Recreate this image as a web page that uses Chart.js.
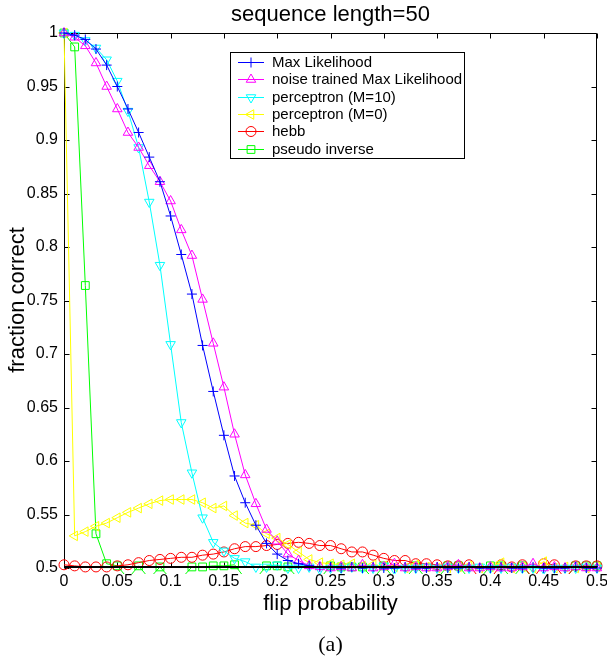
<!DOCTYPE html>
<html>
<head>
<meta charset="utf-8">
<script src="https://cdn.jsdelivr.net/npm/chart.js@4.4.0/dist/chart.umd.min.js"></script>
<style>
html, body { margin: 0; padding: 0; background: #fff; }
#wrap { width: 607px; height: 662px; }
</style>
</head>
<body>
<div id="wrap"><canvas id="c" width="607" height="662"></canvas></div>
<script>
// flip probability (x)
const flipProb = [0,0.01,0.02,0.03,0.04,0.05,0.06,0.07,0.08,0.09,
  0.1,0.11,0.12,0.13,0.14,0.15,0.16,0.17,0.18,0.19,
  0.2,0.21,0.22,0.23,0.24,0.25,0.26,0.27,0.28,0.29,
  0.3,0.31,0.32,0.33,0.34,0.35,0.36,0.37,0.38,0.39,
  0.4,0.41,0.42,0.43,0.44,0.45,0.46,0.47,0.48,0.49,0.5];

// fraction correct per method (0.49 = под осью, не видно)
const maxLik = [1.000,0.998,0.994,0.985,0.970,0.950,0.929,0.907,0.884,0.861,
  0.829,0.793,0.756,0.708,0.665,0.624,0.586,0.561,0.540,0.523,
  0.513,0.507,0.504,0.502,0.501,0.501,0.500,0.501,0.500,0.501,
  0.500,0.500,0.501,0.500,0.500,0.501,0.500,0.500,0.501,0.500,
  0.500,0.501,0.500,0.500,0.501,0.500,0.500,0.500,0.501,0.500,0.500];
const noiseMaxLik = [1.000,0.996,0.988,0.972,0.950,0.929,0.907,0.893,0.876,0.861,
  0.843,0.816,0.792,0.751,0.710,0.669,0.625,0.587,0.560,0.536,
  0.525,0.513,0.507,0.502,0.501,0.500,0.501,0.500,0.503,0.500,
  0.501,0.504,0.500,0.501,0.500,0.500,0.501,0.503,0.500,0.500,
  0.501,0.500,0.500,0.501,0.504,0.500,0.501,0.500,0.501,0.500,0.500];
const percM10 = [1.000,0.998,0.993,0.986,0.975,0.955,0.927,0.893,0.842,0.783,
  0.709,0.636,0.589,0.547,0.524,0.516,0.509,0.506,0.501,0.501,
  0.503,0.500,0.500,0.501,0.499,0.500,0.500,0.501,0.500,0.500,
  0.502,0.499,0.500,0.500,0.501,0.500,0.501,0.500,0.500,0.501,
  0.500,0.500,0.501,0.500,0.500,0.499,0.500,0.500,0.500,0.501,0.500];
const percM0 = [1.000,0.530,0.534,0.539,0.542,0.547,0.552,0.556,0.560,0.563,
  0.564,0.564,0.564,0.561,0.556,0.558,0.549,0.542,0.540,0.532,
  0.528,0.522,0.515,0.508,0.505,0.504,0.503,0.504,0.502,0.503,
  0.502,0.501,0.500,0.503,0.501,0.500,0.500,0.501,0.502,0.500,
  0.501,0.505,0.500,0.501,0.500,0.506,0.500,0.501,0.500,0.500,0.501];
const hebb = [0.503,0.502,0.501,0.501,0.501,0.502,0.503,0.505,0.507,0.508,
  0.509,0.510,0.510,0.512,0.513,0.515,0.518,0.520,0.520,0.521,
  0.522,0.523,0.524,0.523,0.521,0.521,0.518,0.515,0.515,0.512,
  0.509,0.507,0.507,0.504,0.504,0.503,0.502,0.502,0.503,0.49,
  0.49,0.503,0.501,0.503,0.49,0.504,0.503,0.49,0.502,0.502,0.502];
const pseudoInv = [1.000,0.987,0.764,0.532,0.504,0.502,0.49,0.502,0.49,0.501,
  0.49,0.49,0.501,0.501,0.502,0.502,0.503,0.49,0.49,0.502,
  0.502,0.501,0.49,0.49,0.49,0.502,0.501,0.501,0.501,0.49,
  0.502,0.49,0.49,0.502,0.49,0.49,0.502,0.502,0.49,0.49,
  0.502,0.502,0.49,0.502,0.49,0.49,0.49,0.49,0.502,0.502,0.502];

const xTicks = [0,0.05,0.1,0.15,0.2,0.25,0.3,0.35,0.4,0.45,0.5];
const yTicks = [0.5,0.55,0.6,0.65,0.7,0.75,0.8,0.85,0.9,0.95,1];

const FONT = 'Liberation Sans, Arial, Helvetica, sans-serif';

function pts(arr) {
  return arr.map((v, i) => ({x: flipProb[i], y: v}));
}

function series(label, arr, color, style, rot, r) {
  return {
    label: label,
    data: pts(arr),
    borderColor: color,
    backgroundColor: 'rgba(0,0,0,0)',
    borderWidth: 1,
    pointStyle: style,
    pointRotation: rot,
    pointRadius: r,
    pointBorderWidth: 1,
    pointBorderColor: color,
    pointBackgroundColor: 'rgba(0,0,0,0)',
    tension: 0,
    clip: {left: 8, top: 8, right: 8, bottom: 6}
  };
}

const datasets = [
  series('Max Likelihood', maxLik, '#0000ff', 'cross', 0, 5),
  series('noise trained Max Likelihood', noiseMaxLik, '#ff00ff', 'triangle', 0, 5.5),
  series('perceptron (M=10)', percM10, '#00ffff', 'triangle', 180, 5.5),
  series('perceptron (M=0)', percM0, '#ffff00', 'triangle', 270, 5.5),
  series('hebb', hebb, '#ff0000', 'circle', 0, 5),
  series('pseudo inverse', pseudoInv, '#00ff00', 'rect', 0, 5.5)
];

function fmt(v) { return String(+(+v).toFixed(2)); }

// рамка и внутренние засечки как в MATLAB
const framePlugin = {
  id: 'frame',
  beforeDatasetsDraw(chart) {
    const ctx = chart.ctx, a = chart.chartArea;
    const xs = chart.scales.x, ys = chart.scales.y;
    const L = Math.round(a.left) + 0.5, R = Math.round(a.right) - 0.5;
    const T = Math.round(a.top) + 0.5, B = Math.round(a.bottom) - 0.5;
    ctx.save();
    ctx.strokeStyle = '#000';
    ctx.lineWidth = 1;
    ctx.beginPath();
    ctx.rect(L, T, R - L, B - T);
    xTicks.forEach(v => {
      const px = Math.round(xs.getPixelForValue(v)) + 0.5;
      ctx.moveTo(px, B); ctx.lineTo(px, B - 5);
      ctx.moveTo(px, T); ctx.lineTo(px, T + 5);
    });
    yTicks.forEach(v => {
      const py = Math.round(ys.getPixelForValue(v)) + 0.5;
      ctx.moveTo(L, py); ctx.lineTo(L + 5, py);
      ctx.moveTo(R, py); ctx.lineTo(R - 5, py);
    });
    ctx.stroke();
    ctx.restore();
  },
  afterDatasetsDraw(chart) {
    // толстая линия по низу, где сходятся все кривые
    const ctx = chart.ctx, a = chart.chartArea;
    ctx.save();
    ctx.strokeStyle = '#000';
    ctx.lineWidth = 2;
    ctx.beginPath();
    ctx.moveTo(a.left, Math.round(a.bottom) - 1);
    ctx.lineTo(a.right, Math.round(a.bottom) - 1);
    ctx.stroke();
    ctx.restore();
  },
  afterDraw(chart) {
    const ctx = chart.ctx, a = chart.chartArea;
    const cx = (a.left + a.right) / 2;
    ctx.save();
    ctx.fillStyle = '#000';
    ctx.textAlign = 'center';
    ctx.textBaseline = 'middle';
    ctx.font = '22px ' + FONT;
    ctx.fillText('sequence length=50', cx, 15);
    ctx.fillText('flip probability', cx, 604);
    ctx.font = '22px Liberation Serif, DejaVu Serif, serif';
    ctx.fillText('(a)', cx, 645);
    ctx.translate(18, 300);
    ctx.rotate(-Math.PI / 2);
    ctx.font = '22px ' + FONT;
    ctx.fillText('fraction correct', 0, 0);
    ctx.restore();

    // легенда
    const bx = 230, by = 52, bw = 234, bh = 106;
    ctx.save();
    ctx.fillStyle = '#fff';
    ctx.fillRect(bx, by, bw, bh);
    ctx.strokeStyle = '#000';
    ctx.lineWidth = 1;
    ctx.strokeRect(bx + 0.5, by + 0.5, bw, bh);
    ctx.font = '15px ' + FONT;
    ctx.textAlign = 'left';
    ctx.textBaseline = 'middle';
    chart.data.datasets.forEach((ds, i) => {
      const y = Math.round(by + 10 + i * 17.3) + 0.5;
      ctx.strokeStyle = ds.borderColor;
      ctx.lineWidth = 1;
      ctx.beginPath();
      ctx.moveTo(238, y); ctx.lineTo(264, y);
      ctx.stroke();
      if (Chart.helpers && Chart.helpers.drawPoint) {
        ctx.fillStyle = 'rgba(0,0,0,0)';
        Chart.helpers.drawPoint(ctx, {
          pointStyle: ds.pointStyle, rotation: ds.pointRotation,
          radius: ds.pointRadius, borderWidth: 1
        }, 251, y);
      }
      ctx.fillStyle = '#000';
      ctx.fillText(ds.label, 272, y);
    });
    ctx.restore();
  }
};

new Chart(document.getElementById('c'), {
  type: 'line',
  data: { datasets: datasets },
  options: {
    responsive: false,
    animation: false,
    layout: { padding: { left: 0, right: 10, top: 33, bottom: 0 } },
    plugins: { legend: { display: false }, title: { display: false }, tooltip: { enabled: false } },
    scales: {
      x: {
        type: 'linear', min: 0, max: 0.5,
        grid: { display: false, drawTicks: false },
        border: { display: false },
        afterBuildTicks: s => { s.ticks = xTicks.map(v => ({value: v})); },
        afterFit: s => { s.height = 94; s.paddingLeft = 0; s.paddingRight = 0; },
        ticks: { color: '#000', font: { family: FONT, size: 16 }, padding: 4, maxRotation: 0, autoSkip: false, callback: fmt }
      },
      y: {
        type: 'linear', min: 0.5, max: 1,
        grid: { display: false, drawTicks: false },
        border: { display: false },
        afterBuildTicks: s => { s.ticks = yTicks.map(v => ({value: v})); },
        afterFit: s => { s.width = 64; s.paddingTop = 0; s.paddingBottom = 0; },
        ticks: { color: '#000', font: { family: FONT, size: 16 }, padding: 6, autoSkip: false, callback: fmt }
      }
    }
  },
  plugins: [framePlugin]
});
</script>
</body>
</html>
